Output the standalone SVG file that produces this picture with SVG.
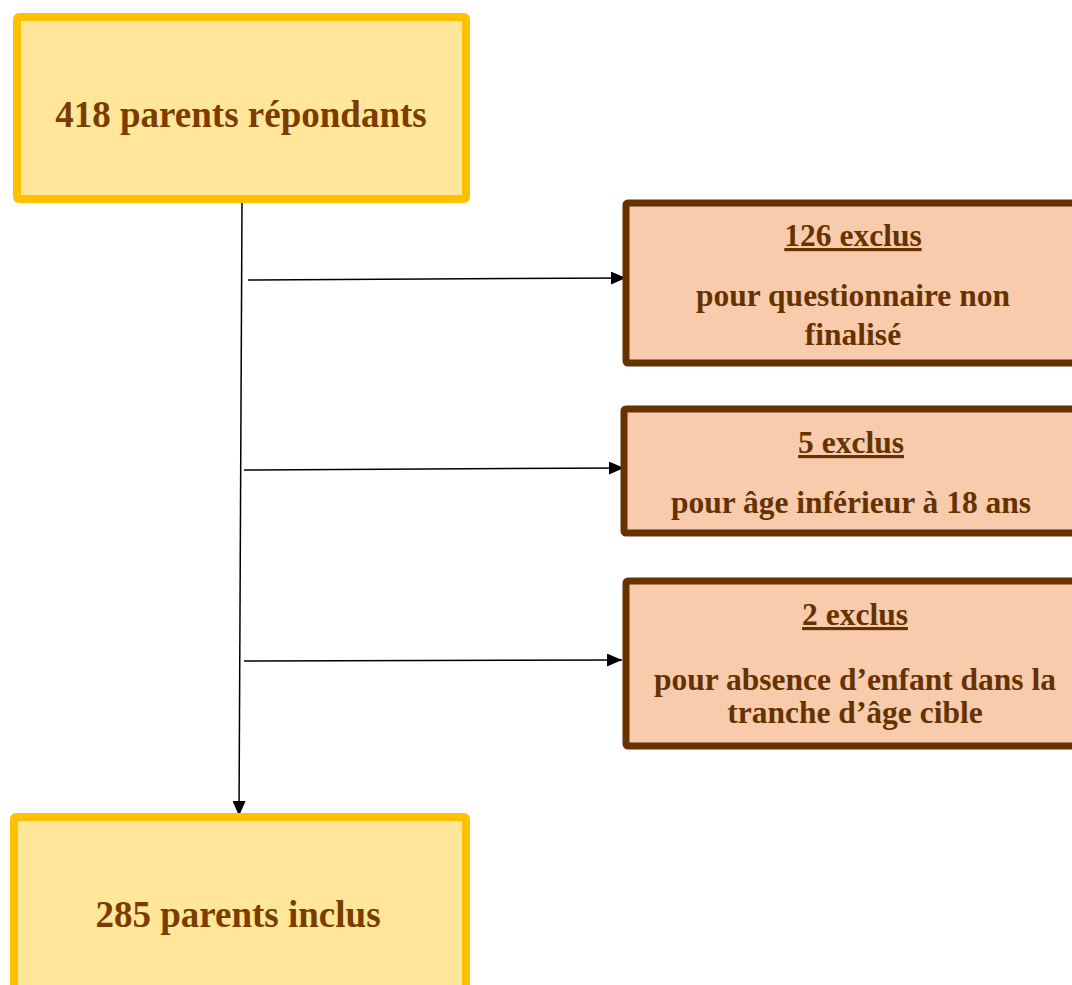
<svg xmlns="http://www.w3.org/2000/svg" width="1072" height="985" viewBox="0 0 1072 985">
<style>
.yel{fill:#FFE699;stroke:#FFC000;stroke-width:8}
.exc{fill:#F8CBAD;stroke:#663300;stroke-width:7}
.t1{font-family:"Liberation Serif","Times New Roman",serif;font-weight:bold;font-size:37px;fill:#7B3C00;text-anchor:middle}
.t2{font-family:"Liberation Serif","Times New Roman",serif;font-weight:bold;font-size:31.5px;fill:#663300;text-anchor:middle}
.u{text-decoration:underline}
.c{stroke:#000;stroke-width:1.5;fill:none;marker-end:url(#ah)}
</style>
<defs>
<marker id="ah" markerUnits="userSpaceOnUse" markerWidth="15" markerHeight="13" refX="15" refY="6.5" orient="auto">
<path d="M0,0 L15,6.5 L0,13 Z" fill="#000"/>
</marker>
</defs>
<g id="connectors">
<path class="c" d="M242,203 L239,816"/>
<path class="c" d="M248,280 L626,278"/>
<path class="c" d="M244,470 L624,468"/>
<path class="c" d="M244,661 L622,660"/>
</g>
<g id="n-repondants">
<rect class="yel" x="17" y="17" width="449" height="182" rx="2"/>
<text class="t1" x="241" y="127">418 parents répondants</text>
</g>
<g id="n-exclus126">
<rect class="exc" x="626" y="203" width="460" height="160" rx="2"/>
<text class="t2 u" x="853" y="246">126 exclus</text>
<text class="t2" x="853" y="306">pour questionnaire non</text>
<text class="t2" x="853" y="345">finalisé</text>
</g>
<g id="n-exclus5">
<rect class="exc" x="624" y="409" width="460" height="124" rx="2"/>
<text class="t2 u" x="851" y="453">5 exclus</text>
<text class="t2" x="851" y="513">pour âge inférieur à 18 ans</text>
</g>
<g id="n-exclus2">
<rect class="exc" x="626" y="581" width="460" height="165" rx="2"/>
<text class="t2 u" x="855" y="625">2 exclus</text>
<text class="t2" x="855" y="690">pour absence d’enfant dans la</text>
<text class="t2" x="855" y="723">tranche d’âge cible</text>
</g>
<g id="n-inclus">
<rect class="yel" x="14" y="817" width="452" height="200" rx="2"/>
<text class="t1" x="238" y="927">285 parents inclus</text>
</g>
</svg>
